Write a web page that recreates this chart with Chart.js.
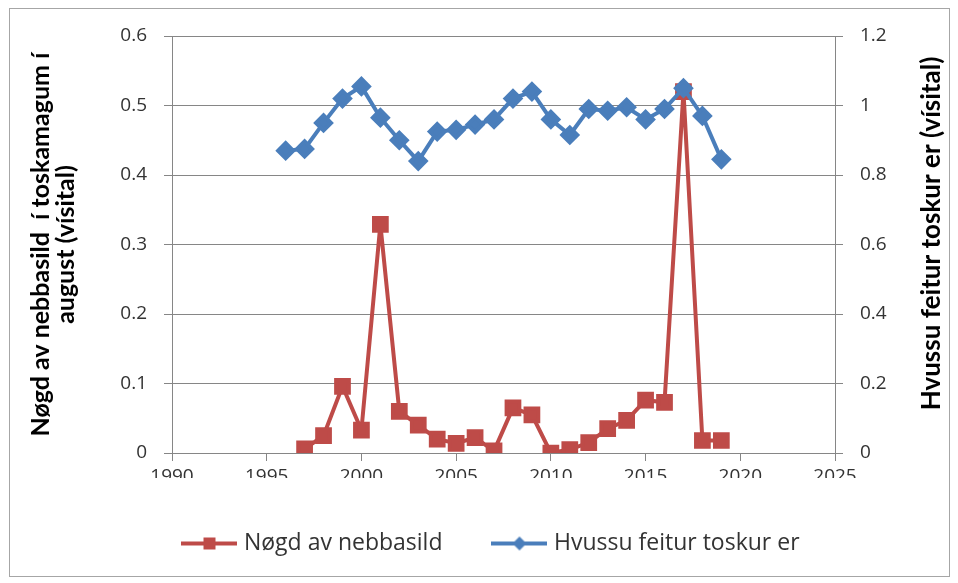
<!DOCTYPE html>
<html>
<head>
<meta charset="utf-8">
<script src="https://cdn.jsdelivr.net/npm/chart.js@4/dist/chart.umd.min.js"></script>
<style>
  body { margin: 0; background: #fff; }
  #wrap { width: 958px; height: 583px; position: relative; }
</style>
</head>
<body>
<div id="wrap"><canvas id="chart"></canvas></div>
<script>
// --- data ---
const herringYears = [1997, 1998, 1999, 2000, 2001, 2002, 2003, 2004, 2005, 2006, 2007, 2008,
  2009, 2010, 2011, 2012, 2013, 2014, 2015, 2016, 2017, 2018, 2019];
const herringIndex = [0.006, 0.025, 0.096, 0.033, 0.329, 0.06, 0.04, 0.02, 0.014, 0.022, 0.003, 0.065,
  0.055, 0.0, 0.005, 0.015, 0.035, 0.047, 0.076, 0.073, 0.52, 0.018, 0.018];

const fatYears = [1996, 1997, 1998, 1999, 2000, 2001, 2002, 2003, 2004, 2005, 2006, 2007, 2008,
  2009, 2010, 2011, 2012, 2013, 2014, 2015, 2016, 2017, 2018, 2019];
const fatIndex = [0.87, 0.875, 0.95, 1.02, 1.055, 0.965, 0.9, 0.84, 0.925, 0.93, 0.945, 0.96, 1.02,
  1.04, 0.96, 0.915, 0.99, 0.985, 0.995, 0.96, 0.99, 1.05, 0.97, 0.845];

const seriesNames = ["Nøgd av nebbasild", "Hvussu feitur toskur er"];
const leftTitle = ["Nøgd av nebbasild  í toskamagum í", "august (vísital)"];
const rightTitle = "Hvussu feitur toskur er (vísital)";

const RED = "#BE4B48";
const BLUE = "#4A7EBB";
const GRID = "#868686";
const TXT = "#333333";
const TICKFONT = { family: "'Open Sans', sans-serif", size: 19 };
const TITLEFONT = "Lato, sans-serif";

const toPoints = (xs, ys) => xs.map((x, i) => ({ x: x, y: ys[i] }));
const fmt = v => String(+v.toFixed(1));

// legend icon: line with marker, like the spreadsheet legend
function legendIcon(color, shape) {
  const c = document.createElement("canvas");
  c.width = 56; c.height = 16;
  const g = c.getContext("2d");
  g.strokeStyle = color; g.lineWidth = 4;
  g.beginPath(); g.moveTo(0, 8); g.lineTo(56, 8); g.stroke();
  g.fillStyle = color;
  if (shape === "square") {
    g.fillRect(22, 2, 12, 12);
  } else {
    g.beginPath(); g.moveTo(28, 1); g.lineTo(35, 8); g.lineTo(28, 15); g.lineTo(21, 8); g.closePath(); g.fill();
  }
  return c;
}

const frame = {
  id: "frame",
  beforeDraw(chart) {
    const ctx = chart.ctx;
    ctx.save();
    ctx.fillStyle = "#fff";
    ctx.fillRect(0, 0, chart.width, chart.height);
    ctx.strokeStyle = "#a6a6a6";
    ctx.lineWidth = 1;
    ctx.strokeRect(9.5, 8.5, 940, 568);
    ctx.restore();
  },
  afterDraw(chart) {
    // right axis title reads bottom-to-top, as in the original
    const ctx = chart.ctx;
    const a = chart.chartArea;
    ctx.save();
    ctx.translate(932, (a.top + a.bottom) / 2 - 11);
    ctx.rotate(-Math.PI / 2);
    ctx.font = "bold 26px " + TITLEFONT;
    ctx.fillStyle = "#000";
    ctx.textAlign = "center";
    ctx.textBaseline = "middle";
    ctx.fillText(rightTitle, 0, 0);
    ctx.restore();
  }
};

new Chart(document.getElementById("chart"), {
  type: "scatter",
  data: {
    datasets: [
      {
        label: seriesNames[0],
        data: toPoints(herringYears, herringIndex),
        showLine: true,
        borderColor: RED,
        backgroundColor: RED,
        borderWidth: 4,
        pointStyle: "rect",
        pointRadius: 9,
        pointHoverRadius: 9,
        yAxisID: "y",
        order: 1
      },
      {
        label: seriesNames[1],
        data: toPoints(fatYears, fatIndex),
        showLine: true,
        borderColor: BLUE,
        backgroundColor: BLUE,
        borderWidth: 4,
        pointStyle: "rectRot",
        pointRadius: 7.5,
        pointHoverRadius: 7.5,
        yAxisID: "y2",
        order: 0
      }
    ]
  },
  options: {
    responsive: true,
    maintainAspectRatio: false,
    animation: false,
    layout: { padding: { left: 28, right: 0, top: 36, bottom: 18 } },
    plugins: {
      tooltip: { enabled: false },
      legend: {
        position: "bottom",
        labels: {
          usePointStyle: true,
          pointStyleWidth: 46,
          padding: 54,
          color: TXT,
          font: { family: "'Open Sans', sans-serif", size: 23 },
          generateLabels: () => [
            { text: seriesNames[0], pointStyle: legendIcon(RED, "square"), fontColor: TXT, datasetIndex: 0, lineWidth: 0 },
            { text: seriesNames[1], pointStyle: legendIcon(BLUE, "diamond"), fontColor: TXT, datasetIndex: 1, lineWidth: 0 }
          ]
        }
      }
    },
    scales: {
      x: {
        type: "linear",
        min: 1990,
        max: 2025,
        afterFit: s => { s.height = 25; },
        ticks: { stepSize: 5, color: TXT, font: TICKFONT, padding: 4, callback: v => String(v) },
        grid: { drawOnChartArea: false, color: GRID, tickLength: 8 },
        border: { color: GRID }
      },
      y: {
        position: "left",
        min: 0,
        max: 0.6,
        afterFit: s => { s.width = 172 - 28; },
        ticks: { stepSize: 0.1, color: TXT, font: TICKFONT, padding: 17, callback: fmt },
        grid: { color: GRID, tickLength: 8 },
        border: { color: GRID },
        title: {
          display: true,
          text: leftTitle,
          color: "#000",
          font: { family: TITLEFONT, size: 25, weight: "bold", lineHeight: 1.0 },
          padding: { top: 0, bottom: 0 }
        }
      },
      y2: {
        position: "right",
        min: 0,
        max: 1.2,
        afterFit: s => { s.width = 958 - 835; },
        ticks: { stepSize: 0.2, color: TXT, font: TICKFONT, padding: 17, callback: fmt },
        grid: { drawOnChartArea: false, color: GRID, tickLength: 8 },
        border: { color: GRID }
      }
    }
  },
  plugins: [frame]
});
</script>
</body>
</html>
